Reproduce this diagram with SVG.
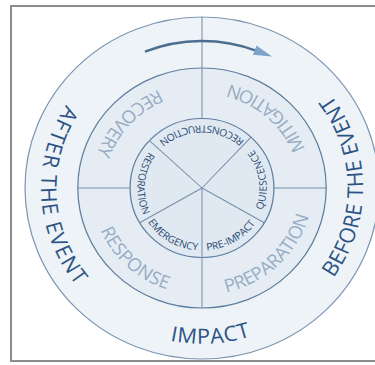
<svg xmlns="http://www.w3.org/2000/svg" xmlns:xlink="http://www.w3.org/1999/xlink" width="375" height="365" viewBox="0 0 375 365">
<style>
.ring{stroke-width:1.2;}
.div{stroke:#7690ad;stroke-width:1;fill:none;}
.outerT{font-family:"Open Sans","Noto Sans","Liberation Sans",sans-serif;font-size:21px;fill:#2d5385;}
.midT{font-family:"Open Sans","Noto Sans","Liberation Sans",sans-serif;font-size:18px;fill:#98adc4;}
.innT{font-family:"Open Sans","Noto Sans","Liberation Sans",sans-serif;font-size:10px;fill:#2a4a72;}
</style>
<defs>
<path id="pAfter" d="M-35.5,-151.4 A155.5,155.5 0 0 0 -18.4,154.4"/>
<path id="pBefore" d="M29,152.8 A155.5,155.5 0 0 0 25,-153.5"/>
<path id="pImpact" d="M-151.5,35.3 A155.5,155.5 0 0 0 154.4,18.7"/>
<path id="pRecovery" d="M49.7,-94.7 A107,107 0 0 0 -90.4,57.2"/>
<path id="pMitigation" d="M95.9,47.4 A107,107 0 0 0 -59.4,-89"/>
<path id="pPreparation" d="M-55.6,91.4 A107,107 0 0 0 93.8,-51.4"/>
<path id="pResponse" d="M-94.8,-49.6 A107,107 0 0 0 57.3,90.3"/>
<path id="pRecon" d="M54,-31.5 A62.5,62.5 0 0 0 -54.3,-31"/>
<path id="pQuies" d="M38.9,48.9 A62.5,62.5 0 0 0 22.9,-58.2"/>
<path id="pPre" d="M-31.3,54.1 A62.5,62.5 0 0 0 62.5,0.1"/>
<path id="pEmer" d="M-62.5,-0.5 A62.5,62.5 0 0 0 30.8,54.4"/>
<path id="pRest" d="M-26.8,-56.5 A62.5,62.5 0 0 0 -35.5,51.4"/>
<marker id="ah" markerUnits="userSpaceOnUse" markerWidth="20" markerHeight="12" refX="2" refY="6" orient="auto">
<path d="M0,1 L18,6 L0,11 Z" fill="#7ea2c8"/>
</marker>
</defs>
<rect x="0" y="0" width="375" height="365" fill="#ffffff"/>
<rect x="11" y="6" width="380" height="355" fill="none" stroke="#8c8c8c" stroke-width="2"/>
<g transform="translate(202,188) scale(1.035,1)">
<g id="ring-outer"><circle r="171" fill="#eef3f8" stroke="#7d97b4" class="ring"/></g>
<g id="ring-middle"><circle r="120" fill="#e5ecf4" stroke="#5f7d9e" class="ring"/></g>
<g id="ring-inner"><circle r="69.5" fill="#e0e8f1" stroke="#5f7d9e" class="ring"/></g>
<g id="connectors">
<line class="div" x1="0" y1="-171" x2="0" y2="-69.5"/>
<line class="div" x1="0" y1="0" x2="0" y2="120"/>
<line class="div" x1="-120" y1="0" x2="-69.5" y2="0"/>
<line class="div" x1="69.5" y1="0" x2="120" y2="0"/>
<line class="div" x1="0" y1="0" x2="-50.8" y2="-47.4"/>
<line class="div" x1="0" y1="0" x2="47.4" y2="-50.8"/>
<line class="div" x1="0" y1="0" x2="60.2" y2="34.75"/>
<line class="div" x1="0" y1="0" x2="-60.2" y2="34.75"/>
<path id="cycle-arrow" d="M-55.1,-136.3 A147,147 0 0 1 52.7,-137.2" fill="none" stroke="#4d6d90" stroke-width="2.4" marker-end="url(#ah)"/>
</g>
<g id="after-the-event"><text class="outerT" text-anchor="middle"><textPath xlink:href="#pAfter" href="#pAfter" startOffset="50%" textLength="193" lengthAdjust="spacing">AFTER THE EVENT</textPath></text></g>
<g id="before-the-event"><text class="outerT" text-anchor="middle"><textPath xlink:href="#pBefore" href="#pBefore" startOffset="50%" textLength="196" lengthAdjust="spacing">BEFORE THE EVENT</textPath></text></g>
<g id="impact"><text class="outerT" text-anchor="middle"><textPath xlink:href="#pImpact" href="#pImpact" startOffset="50%" textLength="79" lengthAdjust="spacing">IMPACT</textPath></text></g>
<g id="recovery"><text class="midT" text-anchor="middle"><textPath xlink:href="#pRecovery" href="#pRecovery" startOffset="50%" textLength="91" lengthAdjust="spacing">RECOVERY</textPath></text></g>
<g id="mitigation"><text class="midT" text-anchor="middle"><textPath xlink:href="#pMitigation" href="#pMitigation" startOffset="50%" textLength="101" lengthAdjust="spacing">MITIGATION</textPath></text></g>
<g id="preparation"><text class="midT" text-anchor="middle"><textPath xlink:href="#pPreparation" href="#pPreparation" startOffset="50%" textLength="116" lengthAdjust="spacing">PREPARATION</textPath></text></g>
<g id="response"><text class="midT" text-anchor="middle"><textPath xlink:href="#pResponse" href="#pResponse" startOffset="50%" textLength="90" lengthAdjust="spacing">RESPONSE</textPath></text></g>
<g id="reconstruction"><text class="innT" text-anchor="middle"><textPath xlink:href="#pRecon" href="#pRecon" startOffset="50%" textLength="90" lengthAdjust="spacing">RECONSTRUCTION</textPath></text></g>
<g id="quiescence"><text class="innT" text-anchor="middle"><textPath xlink:href="#pQuies" href="#pQuies" startOffset="50%" textLength="64" lengthAdjust="spacing">QUIESCENCE</textPath></text></g>
<g id="pre-impact"><text class="innT" text-anchor="middle"><textPath xlink:href="#pPre" href="#pPre" startOffset="50%" textLength="56" lengthAdjust="spacing">PRE-IMPACT</textPath></text></g>
<g id="emergency"><text class="innT" text-anchor="middle"><textPath xlink:href="#pEmer" href="#pEmer" startOffset="50%" textLength="58" lengthAdjust="spacing">EMERGENCY</textPath></text></g>
<g id="restoration"><text class="innT" text-anchor="middle"><textPath xlink:href="#pRest" href="#pRest" startOffset="50%" textLength="66" lengthAdjust="spacing">RESTORATION</textPath></text></g>
</g>
</svg>
